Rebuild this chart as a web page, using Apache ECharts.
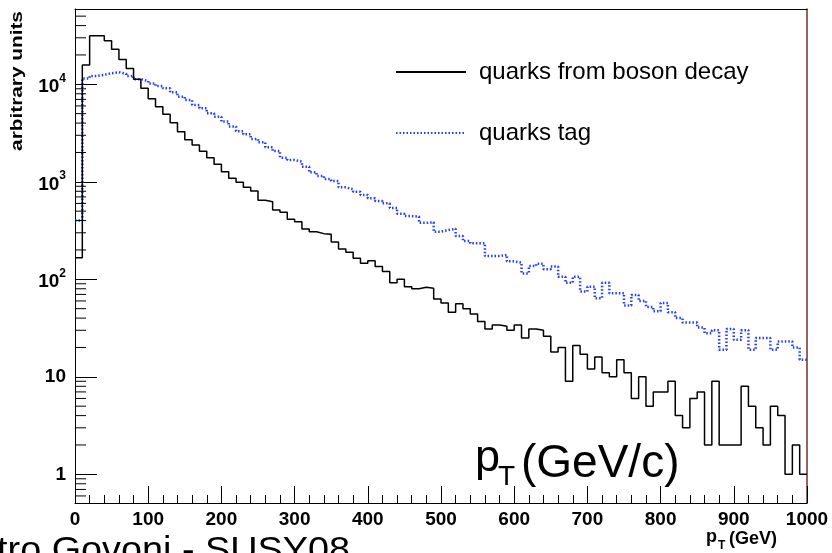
<!DOCTYPE html>
<html><head><meta charset="utf-8">
<script src="https://cdn.jsdelivr.net/npm/echarts@6/dist/echarts.min.js"></script>
<style>html,body{margin:0;padding:0;background:#fff}#c{width:832px;height:553px}</style>
</head><body><div id="c"></div>
<script>
// ---- data (pT histograms, 10 GeV bins from 0 to 1000 GeV) ----
const BIN_WIDTH = 10;
const seriesNames = ['quarks from boson decay', 'quarks tag'];
const bosonQuarks = [
  166, 15800, 31400, 31400, 28000, 22900, 18000, 14500, 11300, 9100,
  7100, 5890, 4920, 4040, 3260, 2700, 2380, 2060, 1770, 1510,
  1270, 1090, 988, 879, 805, 646, 625, 514, 487, 412,
  390, 328, 308, 294, 290, 242, 205, 189, 164, 146,
  155, 135, 120, 92, 100, 84, 80, 83, 81, 63,
  57, 46, 56, 50, 44, 37, 31, 34, 33, 30,
  34, 25, 31, 30, 26, 18, 20, 9, 21, 17,
  12, 16, 11, 10, 15, 11, 6, 10, 5, 7,
  7, 9, 4, 3, 6, 7, 2, 9, 2, 2,
  2, 8, 5, 3, 2, 5, 4, 1, 2, 1
];
const tagQuarks = [
  400, 11500, 12200, 12500, 13000, 13300, 12800, 12200, 11300, 10800,
  10200, 9600, 9100, 8280, 7460, 6900, 6130, 5670, 5040, 4660,
  4150, 3700, 3300, 3070, 2750, 2540, 2260, 2070, 1770, 1670,
  1610, 1430, 1250, 1150, 1070, 1020, 878, 838, 792, 733,
  678, 636, 602, 540, 470, 446, 440, 380, 385, 308,
  320, 330, 278, 247, 234, 234, 173, 173, 178, 153,
  148, 115, 137, 144, 127, 135, 106, 92, 106, 75,
  84, 64, 92, 72, 72, 54, 69, 60, 52, 47,
  57, 46, 40, 36, 36, 32, 28, 30, 19, 31,
  24, 30, 19, 25, 25, 19, 23, 23, 20, 15
];
const xTicks = [0, 100, 200, 300, 400, 500, 600, 700, 800, 900, 1000];
const yMin = 0.508, yMax = 59200;

// ---- helpers ----
const FONT = "'Liberation Sans', Arial, Helvetica, sans-serif";
function histPoints(vals) {
  const pts = vals.map((v, i) => [i * BIN_WIDTH, v]);
  pts.push([vals.length * BIN_WIDTH, vals[vals.length - 1]]);
  return pts;
}
const minorY = [];
for (let n = -1; n <= 4; n++) {
  for (let k = 2; k <= 9; k++) {
    const v = k * Math.pow(10, n);
    if (v > yMin && v < yMax) minorY.push([0, v]);
  }
}

const chart = echarts.init(document.getElementById('c'), null, {renderer: 'canvas'});
chart.setOption({
  animation: false,
  backgroundColor: '#fff',
  grid: {left: 75, right: 25, top: 9, bottom: 50, containLabel: false},
  xAxis: [{
    type: 'value', min: xTicks[0], max: xTicks[xTicks.length - 1], interval: 100,
    axisLine: {show: true, lineStyle: {color: '#000', width: 1}},
    axisTick: {show: true, inside: true, length: 17, lineStyle: {color: '#000', width: 1}},
    minorTick: {show: true, splitNumber: 5, length: 8, lineStyle: {color: '#000', width: 1}},
    splitLine: {show: false},
    axisLabel: {color: '#000', fontFamily: FONT, fontWeight: 'bold', fontSize: 19, margin: 7,
      formatter: function (v) { return String(v); }}
  }, {
    type: 'value', position: 'top', min: 0, max: 1000,
    axisLine: {show: true, onZero: false, lineStyle: {color: '#000', width: 1}},
    axisTick: {show: false}, axisLabel: {show: false}, splitLine: {show: false}
  }],
  yAxis: [{
    type: 'log', logBase: 10, min: yMin, max: yMax,
    axisLine: {show: true, onZero: false, lineStyle: {color: '#000', width: 1}},
    axisTick: {show: true, inside: true, length: 22, lineStyle: {color: '#000', width: 1}},
    splitLine: {show: false},
    axisLabel: {
      color: '#000', fontFamily: FONT, fontWeight: 'bold', fontSize: 19, margin: 9,
      formatter: function (v) {
        const e = Math.log10(v);
        const r = Math.round(e);
        if (Math.abs(e - r) > 1e-6) return '';
        if (r === 0) return '1';
        if (r === 1) return '10';
        return '{b|10}{s|' + r + '}';
      },
      rich: {
        b: {fontFamily: FONT, fontWeight: 'bold', fontSize: 19, lineHeight: 24, verticalAlign: 'bottom', color: '#000'},
        s: {fontFamily: FONT, fontWeight: 'bold', fontSize: 12, lineHeight: 24, verticalAlign: 'top', color: '#000'}
      }
    }
  }, {
    type: 'log', logBase: 10, min: yMin, max: yMax, position: 'right',
    axisLine: {show: true, onZero: false, lineStyle: {color: '#6b3526', width: 1.5}},
    axisTick: {show: false}, axisLabel: {show: false}, splitLine: {show: false}
  }],
  legend: {
    left: 395, top: 60, orient: 'vertical', padding: 0,
    itemWidth: 70, itemHeight: 24, itemGap: 37,
    data: seriesNames,
    itemStyle: {opacity: 0, borderWidth: 0},
    textStyle: {fontFamily: FONT, fontSize: 24, color: '#000', padding: [0, 0, 0, 8]}
  },
  series: [{
    name: seriesNames[0], type: 'line', step: 'end', symbol: 'none',
    data: histPoints(bosonQuarks),
    lineStyle: {color: '#000', width: 1.5}, itemStyle: {color: '#000'}, z: 3
  }, {
    name: seriesNames[1], type: 'line', step: 'end', symbol: 'none',
    data: histPoints(tagQuarks),
    lineStyle: {color: '#1f3cff', width: 2.5, type: [1.5, 2]}, itemStyle: {color: '#1f3cff'}, z: 2
  }, {
    type: 'custom', silent: true, clip: false, z: 4,
    data: minorY,
    renderItem: function (params, api) {
      const p = api.coord([0, api.value(1)]);
      return {type: 'line', shape: {x1: p[0], y1: p[1], x2: p[0] + 11, y2: p[1]},
        style: {stroke: '#000', lineWidth: 1}};
    }
  }],
  graphic: [
    {type: 'text', x: 18, y: 81, rotation: Math.PI / 2, scaleX: 1.3,
      style: {text: 'arbitrary units', font: 'bold 16px ' + FONT, fill: '#000', textAlign: 'center', textVerticalAlign: 'middle'}},
    {type: 'text', x: 475, y: 481, style: {text: 'p', font: '45px ' + FONT, fill: '#000', textAlign: 'left', textVerticalAlign: 'bottom'}},
    {type: 'text', x: 498, y: 491, style: {text: 'T', font: '28px ' + FONT, fill: '#000', textAlign: 'left', textVerticalAlign: 'bottom'}},
    {type: 'text', x: 521, y: 487, style: {text: '(GeV/c)', font: '46px ' + FONT, fill: '#000', textAlign: 'left', textVerticalAlign: 'bottom'}},
    {type: 'text', x: 706, y: 546, style: {text: 'p', font: 'bold 18px ' + FONT, fill: '#000', textAlign: 'left', textVerticalAlign: 'bottom'}},
    {type: 'text', x: 718, y: 552, style: {text: 'T', font: 'bold 12px ' + FONT, fill: '#000', textAlign: 'left', textVerticalAlign: 'bottom'}},
    {type: 'text', x: 729, y: 548, style: {text: '(GeV)', font: 'bold 18px ' + FONT, fill: '#000', textAlign: 'left', textVerticalAlign: 'bottom'}},
    {type: 'text', x: 350, y: 534, scaleX: 1.08, style: {text: 'Pietro Govoni - SUSY08', font: '35px ' + FONT, fill: '#000', textAlign: 'right', textVerticalAlign: 'top'}}
  ]
});
</script></body></html>
